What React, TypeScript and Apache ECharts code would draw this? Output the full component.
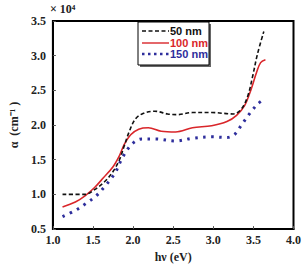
import React, { useEffect, useRef } from "react";
import * as echarts from "echarts";

const xTicks = [1.0, 1.5, 2.0, 2.5, 3.0, 3.5, 4.0];
const yTicks = [0.5, 1.0, 1.5, 2.0, 2.5, 3.0, 3.5];

const x50 = [1.12, 1.4, 1.52, 1.65, 1.75, 1.83, 1.89, 1.95, 2.03, 2.13, 2.27, 2.43, 2.55, 2.74, 2.98, 3.25, 3.35, 3.43, 3.49, 3.55, 3.63];
const y50 = [1.0, 1.0, 1.07, 1.19, 1.33, 1.5, 1.7, 1.9, 2.09, 2.17, 2.2, 2.16, 2.15, 2.18, 2.18, 2.16, 2.23, 2.42, 2.7, 3.02, 3.35];

const x100 = [1.12, 1.28, 1.4, 1.52, 1.63, 1.75, 1.83, 1.89, 1.97, 2.07, 2.19, 2.35, 2.53, 2.74, 2.98, 3.17, 3.29, 3.39, 3.47, 3.54, 3.59, 3.65];
const y100 = [0.82, 0.89, 0.98, 1.1, 1.24, 1.4, 1.56, 1.72, 1.86, 1.94, 1.96, 1.91, 1.9, 1.96, 1.99, 2.05, 2.14, 2.28, 2.51, 2.76, 2.9, 2.94];

const x150 = [1.12, 1.28, 1.4, 1.54, 1.65, 1.77, 1.85, 1.93, 2.01, 2.11, 2.27, 2.53, 2.74, 2.98, 3.17, 3.27, 3.35, 3.45, 3.55, 3.65];
const y150 = [0.68, 0.77, 0.86, 0.98, 1.12, 1.3, 1.49, 1.65, 1.75, 1.8, 1.8, 1.77, 1.81, 1.83, 1.82, 1.87, 2.0, 2.16, 2.3, 2.39];

const seriesNames = ["50 nm", "100 nm", "150 nm"];
const colors = ["#111111", "#d9262a", "#2e2e9c"];

const zip = (xs: number[], ys: number[]) => xs.map((x, i) => [x, ys[i]]);

export default function App() {
  const ref = useRef<HTMLDivElement>(null);
  useEffect(() => {
    const chart = echarts.init(ref.current!, null, { renderer: "svg" });
    const serif = "'Liberation Serif', 'Times New Roman', serif";
    const sans = "'Liberation Sans', Arial, sans-serif";
    const labelStyle = {
      fontFamily: serif,
      fontWeight: "bold" as const,
      fontSize: 12,
      color: "#222",
    };
    chart.setOption({
      animation: false,
      backgroundColor: "#ffffff",
      grid: {
        left: 44,
        top: 21,
        right: 9,
        bottom: 30,
        show: true,
        borderColor: "#000",
        borderWidth: 2,
        backgroundColor: "transparent",
      },
      xAxis: {
        type: "value",
        min: xTicks[0],
        max: xTicks[xTicks.length - 1],
        interval: 0.5,
        axisLine: { show: true, lineStyle: { color: "#000", width: 2 } },
        axisTick: { show: true, inside: true, length: 3, lineStyle: { color: "#555" } },
        splitLine: { show: false },
        axisLabel: { ...labelStyle, margin: 5, formatter: (v: number) => v.toFixed(1) },
        name: "hν (eV)",
        nameLocation: "middle",
        nameGap: 21,
        nameTextStyle: { fontFamily: serif, fontWeight: "bold", fontSize: 12, color: "#222" },
      },
      yAxis: {
        type: "value",
        min: yTicks[0],
        max: yTicks[yTicks.length - 1],
        interval: 0.5,
        axisLine: { show: true, lineStyle: { color: "#000", width: 2 } },
        axisTick: { show: true, inside: true, length: 3, lineStyle: { color: "#555" } },
        splitLine: { show: false },
        axisLabel: { ...labelStyle, margin: 7, formatter: (v: number) => v.toFixed(1) },
        name: "α  (cm⁻¹ )",
        nameLocation: "middle",
        nameGap: 32,
        nameRotate: 90,
        nameTextStyle: { fontFamily: serif, fontWeight: "bold", fontSize: 12, color: "#222" },
      },
      series: [
        {
          name: seriesNames[0],
          type: "line",
          data: zip(x50, y50),
          smooth: 0.35,
          showSymbol: false,
          lineStyle: { color: colors[0], width: 1.6, type: [4, 2.5] },
          z: 3,
        },
        {
          name: seriesNames[1],
          type: "line",
          data: zip(x100, y100),
          smooth: 0.35,
          showSymbol: false,
          lineStyle: { color: colors[1], width: 1.6, type: "solid" },
          z: 2,
        },
        {
          name: seriesNames[2],
          type: "line",
          data: zip(x150, y150),
          smooth: 0.35,
          showSymbol: false,
          lineStyle: { color: colors[2], width: 3, type: [2.5, 5.5] },
          z: 1,
        },
      ],
      graphic: [
        {
          type: "text",
          left: 50,
          top: 3,
          style: { text: "× 10⁴", fontFamily: serif, fontWeight: "bold", fontSize: 12, fill: "#222" },
        },
        {
          type: "rect",
          shape: { x: 140, y: 24, width: 71, height: 43 },
          style: { fill: "#666" },
          z: 10,
        },
        {
          type: "rect",
          shape: { x: 138, y: 22, width: 71, height: 43 },
          style: { fill: "#fff", stroke: "#000", lineWidth: 1 },
          z: 11,
        },
        {
          type: "line",
          shape: { x1: 142, y1: 31, x2: 169, y2: 31 },
          style: { stroke: colors[0], lineWidth: 1.6, lineDash: [4, 2.5] },
          z: 12,
        },
        {
          type: "line",
          shape: { x1: 142, y1: 43, x2: 169, y2: 43 },
          style: { stroke: colors[1], lineWidth: 1.4 },
          z: 12,
        },
        {
          type: "line",
          shape: { x1: 142, y1: 54, x2: 169, y2: 54 },
          style: { stroke: colors[2], lineWidth: 2.5, lineDash: [2.5, 3.5] },
          z: 12,
        },
        ...seriesNames.map((n, i) => ({
          type: "text",
          x: 170,
          y: [31, 43, 54][i],
          style: {
            text: n,
            fontFamily: sans,
            fontWeight: "bold",
            fontSize: 11,
            fill: colors[i],
            verticalAlign: "middle",
          },
          z: 12,
        })),
      ],
    });
    return () => chart.dispose();
  }, []);
  return (
    <div
      ref={ref}
      style={{ position: "fixed", left: 0, top: 0, width: 304, height: 268, background: "#fff" }}
    />
  );
}
